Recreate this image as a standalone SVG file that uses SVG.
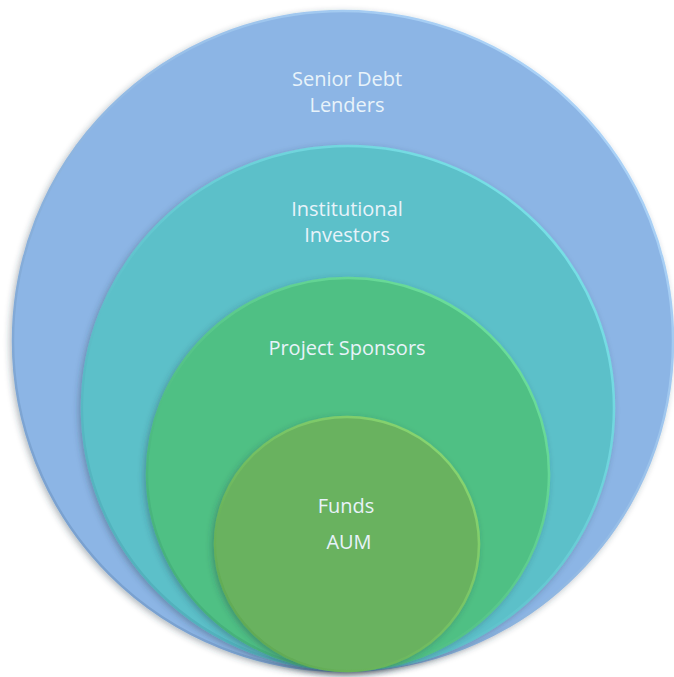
<svg xmlns="http://www.w3.org/2000/svg" width="674" height="677" viewBox="0 0 674 677">
<defs>
<filter id="sh" x="-10%" y="-10%" width="120%" height="120%">
<feDropShadow dx="-2" dy="2" stdDeviation="3" flood-color="#2a3a4a" flood-opacity="0.35"/>
</filter>
<linearGradient id="rim1" x1="0" y1="1" x2="1" y2="0">
<stop offset="0" stop-color="#6f97c8"/><stop offset="1" stop-color="#b5dcff"/>
</linearGradient>
<linearGradient id="rim2" x1="0" y1="1" x2="1" y2="0">
<stop offset="0" stop-color="#4aa8b4"/><stop offset="1" stop-color="#7fe8ee"/>
</linearGradient>
<linearGradient id="rim3" x1="0" y1="1" x2="1" y2="0">
<stop offset="0" stop-color="#3ea874"/><stop offset="1" stop-color="#72e6a0"/>
</linearGradient>
<linearGradient id="rim4" x1="0" y1="1" x2="1" y2="0">
<stop offset="0" stop-color="#5aa250"/><stop offset="1" stop-color="#8edc74"/>
</linearGradient>
</defs>
<style>
.lbl{font-family:"Open Sans","Liberation Sans",sans-serif;font-size:20px;text-anchor:middle;fill:#e8f3fa}
.c{filter:url(#sh);stroke-width:2.5}
</style>
<rect width="674" height="677" fill="#ffffff"/>
<g id="senior-debt-lenders">
<ellipse class="c" cx="343" cy="341" rx="330" ry="330" fill="#8cb5e5" stroke="url(#rim1)"/>
<text class="lbl" x="347" y="86">Senior Debt</text>
<text class="lbl" x="347" y="112">Lenders</text>
</g>
<g id="institutional-investors">
<ellipse class="c" cx="348" cy="408" rx="266" ry="262" fill="#5cc0c9" stroke="url(#rim2)"/>
<text class="lbl" x="347" y="216">Institutional</text>
<text class="lbl" x="347" y="242">Investors</text>
</g>
<g id="project-sponsors">
<ellipse class="c" cx="348" cy="474" rx="201" ry="196" fill="#4fc084" stroke="url(#rim3)"/>
<text class="lbl" x="347" y="355">Project Sponsors</text>
</g>
<g id="funds-aum">
<ellipse class="c" cx="347" cy="544" rx="132" ry="127" fill="#69b25f" stroke="url(#rim4)"/>
<text class="lbl" x="346" y="513">Funds</text>
<text class="lbl" x="349" y="549">AUM</text>
</g>
<g id="connectors"/>
</svg>
